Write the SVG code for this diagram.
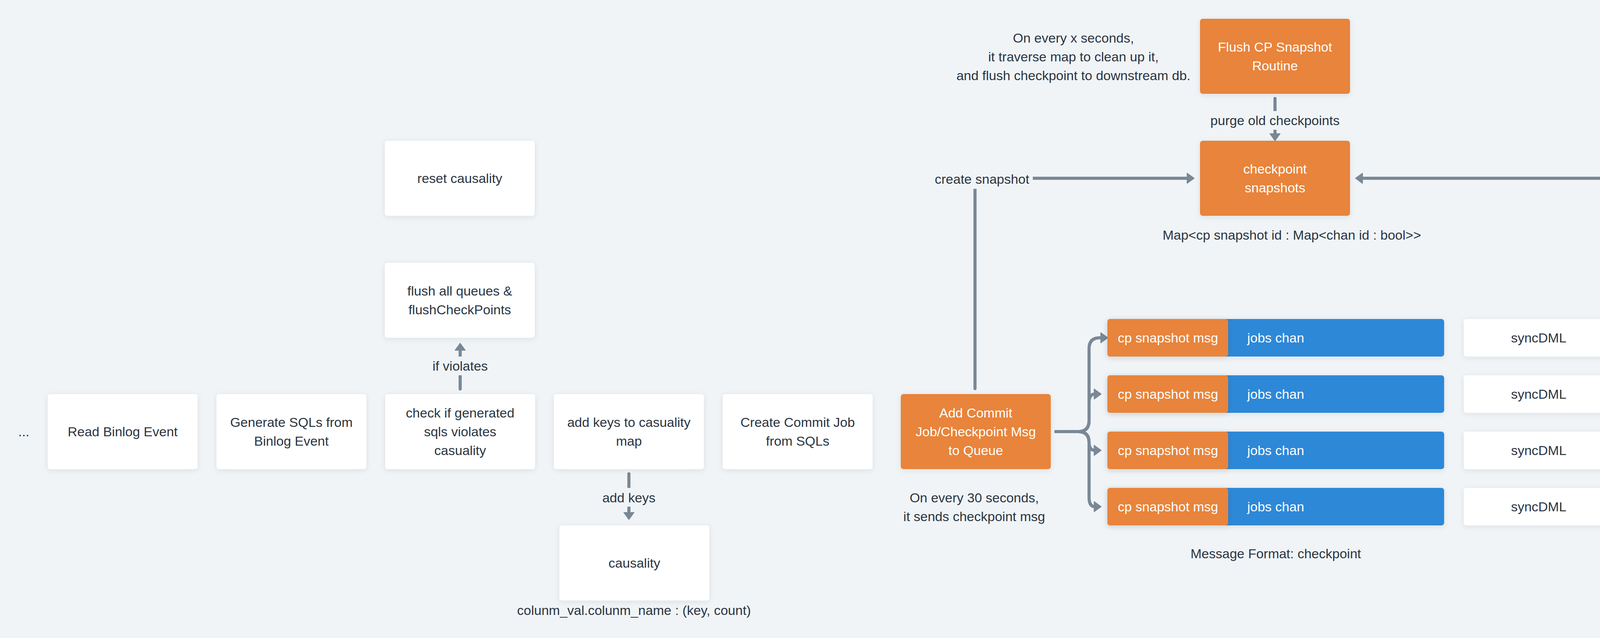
<svg xmlns="http://www.w3.org/2000/svg" width="5376" height="1632" viewBox="0 0 5376 1632">
  <defs>
    <filter id="sh" x="-10%" y="-30%" width="120%" height="170%">
      <feDropShadow dx="0" dy="3" stdDeviation="7" flood-color="#1b2a3a" flood-opacity="0.09"/>
    </filter>
    <marker id="ah" viewBox="-2 -15 22 30" markerUnits="userSpaceOnUse" markerWidth="22" markerHeight="30" refX="2" refY="0" orient="auto">
      <path d="M0,-13 L18,0 L0,13 Z" fill="#7a8896" stroke="#7a8896" stroke-width="2" stroke-linejoin="round"/>
    </marker>
  </defs>
  <style>
    text { font-family: "Liberation Sans", Arial, sans-serif; font-size: 34px; fill: #2a3541; text-anchor: middle; }
    .w { fill: #ffffff; }
    .wb { fill: #ffffff; filter: url(#sh); }
    .ob { fill: #e8843a; filter: url(#sh); }
    .bb { fill: #2d88d8; filter: url(#sh); }
    .st { text-anchor: start; }
    .edge { fill: none; stroke: #7a8896; stroke-width: 8; stroke-linecap: round; stroke-linejoin: round; }
    .arrow { marker-end: url(#ah); }
    .lblbg { fill: #f0f4f7; }
  </style>
  <rect x="0" y="0" width="5376" height="1632" fill="#f0f4f7"/>

  <g id="connectors">
    <path class="edge arrow" d="M1178,995 V894"/>
    <path class="edge arrow" d="M1610,1212 V1313"/>
    <path class="edge arrow" d="M3264,252 V344"/>
    <path class="edge arrow" d="M2496,994 V456 H3041"/>
    <path class="edge arrow" d="M5136,946 V484 Q5136,456 5108,456 H3486"/>
    <path class="edge arrow" d="M2703,1104 H2760 Q2788,1104 2788,1076 V892 Q2788,864 2816,864 H2820"/>
    <path class="edge arrow" d="M2703,1104 H2760 Q2788,1104 2788,1076 V1030 Q2788,1008 2803,1008"/>
    <path class="edge arrow" d="M2703,1104 H2760 Q2788,1104 2788,1132 V1131 Q2788,1152 2803,1152"/>
    <path class="edge arrow" d="M2703,1104 H2760 Q2788,1104 2788,1132 V1272 Q2788,1296 2803,1296"/>
    <g id="edge-labels">
      <rect class="lblbg" x="1090" y="912" width="176" height="48"/>
      <text x="1178" y="948">if violates</text>
      <rect class="lblbg" x="1536" y="1248" width="148" height="48"/>
      <text x="1610" y="1285">add keys</text>
      <rect class="lblbg" x="3090" y="284" width="348" height="48"/>
      <text x="3264" y="320">purge old checkpoints</text>
      <rect class="lblbg" x="2384" y="433" width="260" height="50"/>
      <text x="2514" y="470">create snapshot</text>
      <rect class="lblbg" x="4408" y="432" width="266" height="48"/>
      <text x="4541" y="468">update snapshot</text>
    </g>
  </g>

  <g id="ellipsis"><text x="61" y="1116">...</text></g>

  <g id="read-binlog">
    <rect class="wb" x="122" y="1008" width="384" height="192" rx="7"/>
    <text x="314" y="1116">Read Binlog Event</text>
  </g>
  <g id="generate-sqls">
    <rect class="wb" x="554" y="1008" width="384" height="192" rx="7"/>
    <text x="746" y="1092">Generate SQLs from</text>
    <text x="746" y="1140">Binlog Event</text>
  </g>
  <g id="check-violates">
    <rect class="wb" x="986" y="1008" width="384" height="192" rx="7"/>
    <text x="1178" y="1068">check if generated</text>
    <text x="1178" y="1116">sqls violates</text>
    <text x="1178" y="1164">casuality</text>
  </g>
  <g id="add-keys">
    <rect class="wb" x="1418" y="1008" width="384" height="192" rx="7"/>
    <text x="1610" y="1092">add keys to casuality</text>
    <text x="1610" y="1140">map</text>
  </g>
  <g id="create-commit-job">
    <rect class="wb" x="1850" y="1008" width="384" height="192" rx="7"/>
    <text x="2042" y="1092">Create Commit Job</text>
    <text x="2042" y="1140">from SQLs</text>
  </g>
  <g id="reset-causality">
    <rect class="wb" x="985" y="360" width="384" height="192" rx="7"/>
    <text x="1177" y="468">reset causality</text>
  </g>
  <g id="flush-queues">
    <rect class="wb" x="985" y="672" width="384" height="192" rx="7"/>
    <text x="1177" y="756">flush all queues &amp;</text>
    <text x="1177" y="804">flushCheckPoints</text>
  </g>
  <g id="causality">
    <rect class="wb" x="1432" y="1344" width="384" height="192" rx="7"/>
    <text x="1624" y="1452">causality</text>
    <text x="1623" y="1573">colunm_val.colunm_name : (key, count)</text>
  </g>

  <g id="flush-cp-note">
    <text x="2748" y="109">On every x seconds,</text>
    <text x="2748" y="157">it traverse map to clean up it,</text>
    <text x="2748" y="205">and flush checkpoint to downstream db.</text>
  </g>
  <g id="flush-cp-routine">
    <rect class="ob" x="3072" y="48" width="384" height="192" rx="7"/>
    <text class="w" x="3264" y="132">Flush CP Snapshot</text>
    <text class="w" x="3264" y="180">Routine</text>
  </g>
  <g id="checkpoint-snapshots">
    <rect class="ob" x="3072" y="360" width="384" height="192" rx="7"/>
    <text class="w" x="3264" y="444">checkpoint</text>
    <text class="w" x="3264" y="492">snapshots</text>
    <text x="3307" y="613">Map&lt;cp snapshot id : Map&lt;chan id : bool&gt;&gt;</text>
  </g>

  <g id="add-commit-job">
    <rect class="ob" x="2306" y="1008" width="384" height="192" rx="7"/>
    <text class="w" x="2498" y="1068">Add Commit</text>
    <text class="w" x="2498" y="1116">Job/Checkpoint Msg</text>
    <text class="w" x="2498" y="1164">to Queue</text>
    <text x="2494" y="1285">On every 30 seconds,</text>
    <text x="2494" y="1333">it sends checkpoint msg</text>
  </g>

  <g id="queue-1">
    <rect class="bb" x="2835" y="816" width="862" height="96" rx="7"/>
    <rect class="ob" x="2835" y="816" width="309" height="96" rx="7"/>
    <text class="w" x="2990" y="876">cp snapshot msg</text>
    <text class="w st" x="3193" y="876">jobs chan</text>
  </g>
  <g id="queue-2">
    <rect class="bb" x="2835" y="960" width="862" height="96" rx="7"/>
    <rect class="ob" x="2835" y="960" width="309" height="96" rx="7"/>
    <text class="w" x="2990" y="1020">cp snapshot msg</text>
    <text class="w st" x="3193" y="1020">jobs chan</text>
  </g>
  <g id="queue-3">
    <rect class="bb" x="2835" y="1104" width="862" height="96" rx="7"/>
    <rect class="ob" x="2835" y="1104" width="309" height="96" rx="7"/>
    <text class="w" x="2990" y="1164">cp snapshot msg</text>
    <text class="w st" x="3193" y="1164">jobs chan</text>
  </g>
  <g id="queue-4">
    <rect class="bb" x="2835" y="1248" width="862" height="96" rx="7"/>
    <rect class="ob" x="2835" y="1248" width="309" height="96" rx="7"/>
    <text class="w" x="2990" y="1308">cp snapshot msg</text>
    <text class="w st" x="3193" y="1308">jobs chan</text>
  </g>
  <g id="queue-format"><text x="3266" y="1428">Message Format: checkpoint</text></g>

  <g id="syncdml-1">
    <rect class="wb" x="3747" y="816" width="384" height="96" rx="7"/>
    <text x="3939" y="876">syncDML</text>
  </g>
  <g id="syncdml-2">
    <rect class="wb" x="3747" y="960" width="384" height="96" rx="7"/>
    <text x="3939" y="1020">syncDML</text>
  </g>
  <g id="syncdml-3">
    <rect class="wb" x="3747" y="1104" width="384" height="96" rx="7"/>
    <text x="3939" y="1164">syncDML</text>
  </g>
  <g id="syncdml-4">
    <rect class="wb" x="3747" y="1248" width="384" height="96" rx="7"/>
    <text x="3939" y="1308">syncDML</text>
  </g>

  <g id="cp-snapshot-msg-chan">
    <rect class="ob" x="4200" y="1032" width="672" height="96" rx="7"/>
    <text class="w" x="4536" y="1092">cp snapshot msg chan</text>
    <text x="4535" y="1189">Message Format: checkpoint, i’th chan</text>
  </g>
  <g id="checkpoint-msg-routine">
    <rect class="ob" x="4944" y="984" width="384" height="192" rx="7"/>
    <text class="w" x="5136" y="1068">Checkpoint Msg</text>
    <text class="w" x="5136" y="1116">Processing Routine</text>
  </g>
</svg>
